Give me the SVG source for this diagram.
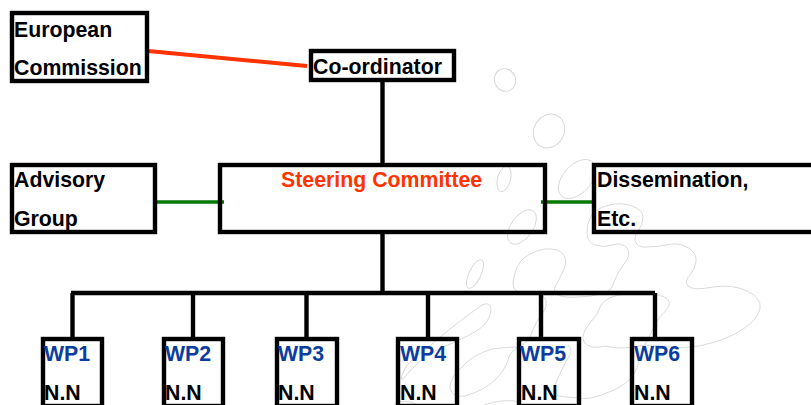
<svg xmlns="http://www.w3.org/2000/svg" width="811" height="405" viewBox="0 0 811 405">
<style>
.bg{fill:#fff}
.blob{fill:none;stroke:#d6d6d6;stroke-width:0.9}
.box{fill:none;stroke:#000;stroke-width:4.400}
.t{font-family:"Liberation Sans",Arial,sans-serif;font-weight:700;font-size:21.3px;fill:#000}
.red{fill:#ff3300}
.blue{fill:#0b3d9e}
.con{fill:none;stroke:#000;stroke-width:4.400}
.cr{fill:none;stroke:#ff3300;stroke-width:4}
.cg{fill:none;stroke:#007a00;stroke-width:3.5}
</style>
<rect class="bg" width="811" height="405"/>
<g id="background-shapes">
<ellipse class="blob" cx="505" cy="80" rx="10.5" ry="11.5" transform="rotate(-25 505 80)"/>
<ellipse class="blob" cx="549" cy="131" rx="15" ry="17.5" transform="rotate(30 549 131)"/>
<ellipse class="blob" cx="504" cy="179" rx="6.500" ry="13" transform="rotate(15 504 179)"/>
<ellipse class="blob" cx="577" cy="179" rx="14" ry="23" transform="rotate(42 577 179)"/>
<ellipse class="blob" cx="522" cy="227" rx="11" ry="19.5" transform="rotate(35 522 227)"/>
<ellipse class="blob" cx="475" cy="274" rx="6" ry="15.5" transform="rotate(25 475 274)"/>
<path class="blob" d="M520,347 Q530,340 532,332 Q536,322 541,315 Q550,304 544,297 Q538,293 525,294 Q513,293 513,283 Q515,265 524,258 Q533,251 545,249 Q558,248 563,254 Q568,260 564,269 Q560,278 556,285 Q552,293 558,295 Q565,298 577,297 Q590,297 601,294 Q612,292 614,282 Q617,273 624,264 Q632,255 627,248 Q622,242 612,245 Q603,248 595,245 Q588,243 587,234 Q586,225 591,216 Q597,208 609,205 Q622,202 632,206 Q643,210 643,217 Q643,225 638,231 Q633,238 636,243 Q640,248 647,247 Q655,247 666,245 Q677,242 687,247 Q697,253 696,261 Q695,270 690,275 Q684,281 688,286 Q693,291 713,287 Q733,284 747,291 Q762,298 760,309 Q757,320 743,329 Q730,338 711,343 Q693,349 670,347 Q650,344 640,346 Q620,350 605,346 Q590,350 584,342 Q580,335 590,323 Q598,315 601,305 Q607,296 625,294 Q645,292 658,295 Q672,298 669,306 Q665,312 660,317 Q655,323 650,335 Q643,347 640,358 Q637,373 627,382 Q617,390 604,394 Q590,400 577,398 Q565,397 558,396 Q553,390 557,380 Q563,367 568,358 Q574,350 568,345"/>
<path class="blob" d="M520,347 Q505,347 492,349 Q472,355 462,367 Q450,377 450,388 Q452,398 465,396 Q485,390 495,380 Q505,370 508,360 Q510,350 520,347"/>
<path class="blob" d="M455,325 Q472,312 482,305 Q491,301 491,310 Q490,322 478,330 Q468,336 455,342 Q438,348 425,357 Q410,370 404,378 Q400,382 402,375 Q406,362 425,350 Q442,335 455,325"/>
<path class="blob" d="M394,404 Q405,398 418,405"/>
<path class="blob" d="M484,405 Q505,398 520,402"/>
</g>
<g id="connectors">
<line class="cr" x1="148" y1="51" x2="307" y2="66"/>
<line class="cg" x1="156" y1="202" x2="224" y2="202"/>
<line class="cg" x1="541" y1="202" x2="594" y2="202"/>
<line class="con" x1="382.500" y1="81" x2="382.500" y2="165"/>
<line class="con" x1="382.500" y1="232" x2="382.500" y2="293"/>
<line class="con" x1="71" y1="293" x2="655" y2="293"/>
<line class="con" x1="72.500" y1="293" x2="72.500" y2="339"/>
<line class="con" x1="193" y1="293" x2="193" y2="339"/>
<line class="con" x1="306.500" y1="293" x2="306.500" y2="339"/>
<line class="con" x1="428" y1="293" x2="428" y2="339"/>
<line class="con" x1="541" y1="293" x2="541" y2="339"/>
<line class="con" x1="655" y1="293" x2="655" y2="339"/>
</g>
<g id="european-commission"><rect class="box" x="12" y="13" width="135" height="68"/><text class="t" x="14" y="37">European</text><text class="t" x="14" y="75">Commission</text></g>
<g id="coordinator"><rect class="box" x="311" y="51" width="143" height="29"/><text class="t" x="313" y="74">Co-ordinator</text></g>
<g id="advisory-group"><rect class="box" x="12" y="165" width="143" height="67"/><text class="t" x="14" y="187">Advisory</text><text class="t" x="14" y="226">Group</text></g>
<g id="steering-committee"><rect class="box" x="220" y="165" width="325" height="67"/><text class="t red" x="281" y="187">Steering Committee</text></g>
<g id="dissemination"><rect class="box" x="594" y="165" width="230" height="67"/><text class="t" x="597" y="187">Dissemination,</text><text class="t" x="597" y="226">Etc.</text></g>
<g id="wp1"><rect class="box" x="43" y="339" width="59" height="67"/><text class="t blue" x="44" y="361">WP1</text><text class="t" x="44" y="400">N.N</text></g>
<g id="wp2"><rect class="box" x="164" y="339" width="59" height="67"/><text class="t blue" x="165" y="361">WP2</text><text class="t" x="165" y="400">N.N</text></g>
<g id="wp3"><rect class="box" x="277" y="339" width="60" height="67"/><text class="t blue" x="278" y="361">WP3</text><text class="t" x="278" y="400">N.N</text></g>
<g id="wp4"><rect class="box" x="398" y="339" width="59" height="67"/><text class="t blue" x="400" y="361">WP4</text><text class="t" x="400" y="400">N.N</text></g>
<g id="wp5"><rect class="box" x="519" y="339" width="60" height="67"/><text class="t blue" x="520" y="361">WP5</text><text class="t" x="521" y="400">N.N</text></g>
<g id="wp6"><rect class="box" x="632" y="339" width="60" height="67"/><text class="t blue" x="634" y="361">WP6</text><text class="t" x="634" y="400">N.N</text></g>
</svg>
